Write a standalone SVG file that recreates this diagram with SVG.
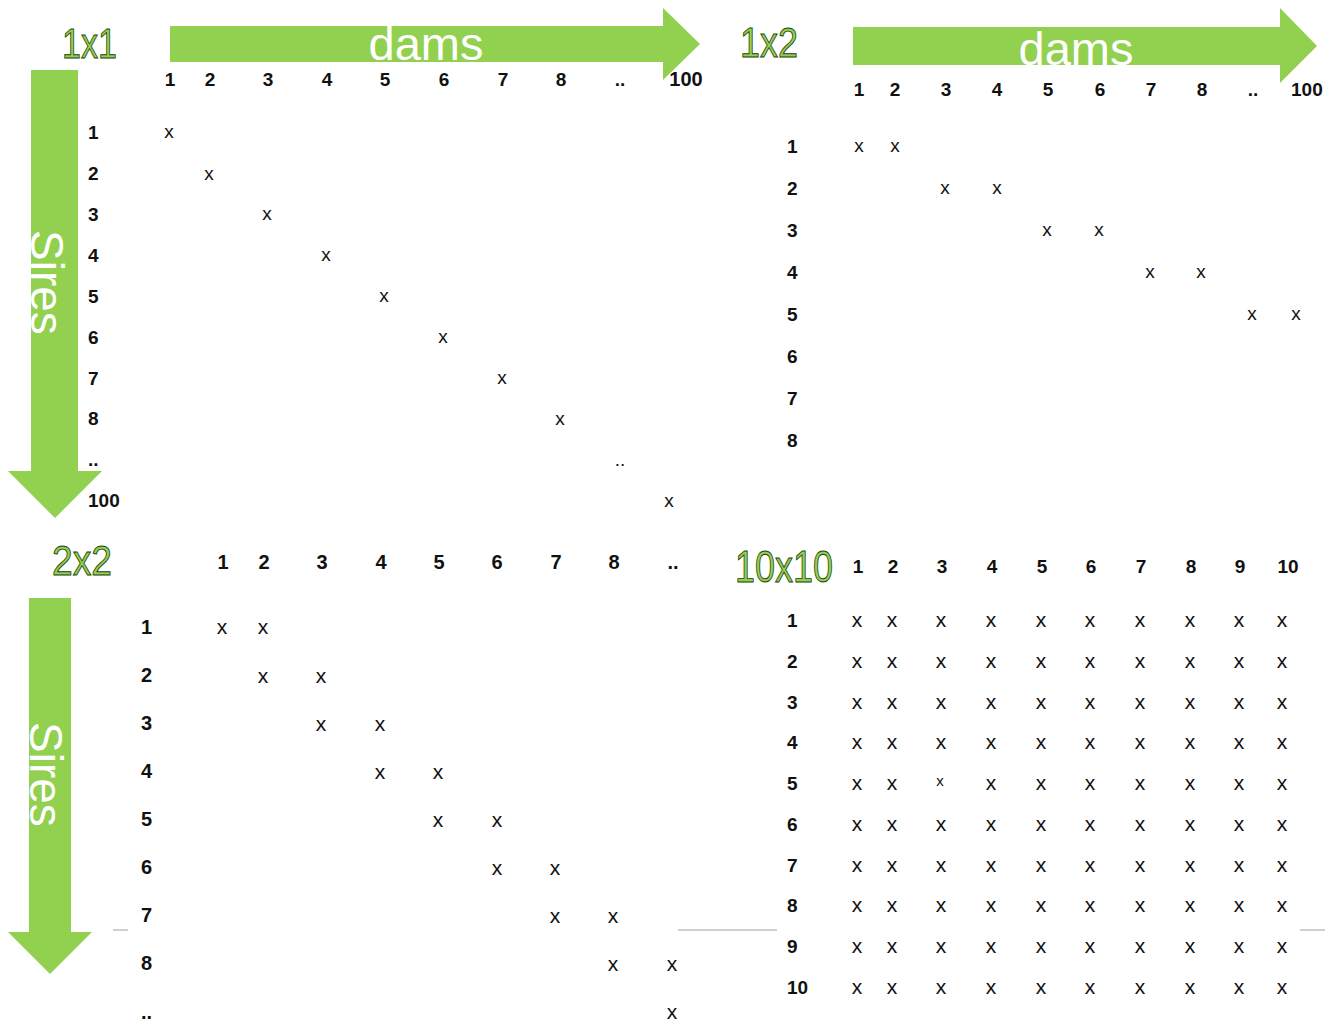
<svg xmlns="http://www.w3.org/2000/svg" width="1325" height="1023" viewBox="0 0 1325 1023">
<style>
.arr{fill:#92d050}
.ttl{font-family:"Liberation Sans",Arial,sans-serif;font-size:43px;fill:#92d050;stroke:#23400c;stroke-width:0.9}
.ax{font-family:"Liberation Sans",Arial,sans-serif;font-size:47px;fill:#ffffff}
.h{font-family:"Liberation Sans",Arial,sans-serif;font-size:19px;font-weight:bold;fill:#111;text-anchor:middle}
.r{font-family:"Liberation Sans",Arial,sans-serif;font-size:19px;font-weight:bold;fill:#111}
.r2{font-family:"Liberation Sans",Arial,sans-serif;font-size:20px;font-weight:bold;fill:#111}
.x{font-family:"Liberation Sans",Arial,sans-serif;font-size:19px;fill:#111;text-anchor:middle}
.xb{font-family:"Liberation Sans",Arial,sans-serif;font-size:21px;fill:#111;text-anchor:middle}
.sep{stroke:#d0d0d0;stroke-width:2}
</style>
<rect width="1325" height="1023" fill="#ffffff"/>
<g id="separators">
<line class="sep" x1="113" y1="930" x2="128" y2="930"/>
<line class="sep" x1="678" y1="930" x2="777" y2="930"/>
<line class="sep" x1="1300" y1="930" x2="1325" y2="930"/>
</g>
<g id="m1x1">
<polygon class="arr" points="170,26 663,26 663,8 700,44 663,80 663,62 170,62"/>
<polygon class="arr" points="31,70 78,70 78,471 102,471 55,518 8,471 31,471"/>
<text class="ax" x="426" y="60" text-anchor="middle">dams</text>
<text class="ax" transform="translate(31,230) rotate(90)" style="font-size:46px">Sires</text>
<text class="ttl" x="62" y="58" textLength="55" lengthAdjust="spacingAndGlyphs">1x1</text>
<g>
<text class="h" x="170" y="86">1</text><text class="h" x="210" y="86">2</text><text class="h" x="268" y="86">3</text><text class="h" x="327" y="86">4</text><text class="h" x="385" y="86">5</text><text class="h" x="444" y="86">6</text><text class="h" x="503" y="86">7</text><text class="h" x="561" y="86">8</text><text class="h" x="620" y="86">..</text><text class="h" x="686" y="86" style="font-size:20px">100</text>
</g>
<g>
<text class="r" x="88" y="139">1</text><text class="r" x="88" y="180">2</text><text class="r" x="88" y="221">3</text><text class="r" x="88" y="262">4</text><text class="r" x="88" y="303">5</text><text class="r" x="88" y="344">6</text><text class="r" x="88" y="385">7</text><text class="r" x="88" y="425">8</text><text class="r" x="88" y="466">..</text><text class="r" x="88" y="507">100</text>
</g>
<g>
<text class="x" x="169" y="138">x</text><text class="x" x="209" y="180">x</text><text class="x" x="267" y="220">x</text><text class="x" x="326" y="261">x</text><text class="x" x="384" y="302">x</text><text class="x" x="443" y="343">x</text><text class="x" x="502" y="384">x</text><text class="x" x="560" y="425">x</text><text class="x" x="620" y="466">..</text><text class="x" x="669" y="507">x</text>
</g>
</g>
<g id="m1x2">
<polygon class="arr" points="853,27 1280,27 1280,8 1317,46 1280,83 1280,65 853,65"/>
<text class="ax" x="1076" y="65" text-anchor="middle">dams</text>
<text class="ttl" x="740" y="57" textLength="58" lengthAdjust="spacingAndGlyphs">1x2</text>
<g>
<text class="h" x="859" y="96">1</text><text class="h" x="895" y="96">2</text><text class="h" x="946" y="96">3</text><text class="h" x="997" y="96">4</text><text class="h" x="1048" y="96">5</text><text class="h" x="1100" y="96">6</text><text class="h" x="1151" y="96">7</text><text class="h" x="1202" y="96">8</text><text class="h" x="1253" y="96">..</text><text class="r" x="1291" y="96">100</text>
</g>
<g>
<text class="r" x="787" y="153">1</text><text class="r" x="787" y="195">2</text><text class="r" x="787" y="237">3</text><text class="r" x="787" y="279">4</text><text class="r" x="787" y="321">5</text><text class="r" x="787" y="363">6</text><text class="r" x="787" y="405">7</text><text class="r" x="787" y="447">8</text>
</g>
<g>
<text class="x" x="859" y="152">x</text><text class="x" x="895" y="152">x</text>
<text class="x" x="945" y="194">x</text><text class="x" x="997" y="194">x</text>
<text class="x" x="1047" y="236">x</text><text class="x" x="1099" y="236">x</text>
<text class="x" x="1150" y="278">x</text><text class="x" x="1201" y="278">x</text>
<text class="x" x="1252" y="320">x</text><text class="x" x="1296" y="320">x</text>
</g>
</g>
<g id="m2x2">
<polygon class="arr" points="29,598 71,598 71,932 92,932 50,974 8,932 29,932"/>
<text class="ax" transform="translate(30,722) rotate(90)" style="font-size:46px">Sires</text>
<text class="ttl" x="52" y="575" textLength="60" lengthAdjust="spacingAndGlyphs">2x2</text>
<g>
<text class="h" x="223" y="569" style="font-size:20px">1</text><text class="h" x="264" y="569" style="font-size:20px">2</text><text class="h" x="322" y="569" style="font-size:20px">3</text><text class="h" x="381" y="569" style="font-size:20px">4</text><text class="h" x="439" y="569" style="font-size:20px">5</text><text class="h" x="497" y="569" style="font-size:20px">6</text><text class="h" x="556" y="569" style="font-size:20px">7</text><text class="h" x="614" y="569" style="font-size:20px">8</text><text class="h" x="673" y="569" style="font-size:20px">..</text>
</g>
<g>
<text class="r2" x="141" y="634">1</text><text class="r2" x="141" y="682">2</text><text class="r2" x="141" y="730">3</text><text class="r2" x="141" y="778">4</text><text class="r2" x="141" y="826">5</text><text class="r2" x="141" y="874">6</text><text class="r2" x="141" y="922">7</text><text class="r2" x="141" y="970">8</text><text class="r2" x="141" y="1019">..</text>
</g>
<g>
<text class="xb" x="222" y="634">x</text><text class="xb" x="263" y="634">x</text>
<text class="xb" x="263" y="683">x</text><text class="xb" x="321" y="683">x</text>
<text class="xb" x="321" y="731">x</text><text class="xb" x="380" y="731">x</text>
<text class="xb" x="380" y="779">x</text><text class="xb" x="438" y="779">x</text>
<text class="xb" x="438" y="827">x</text><text class="xb" x="497" y="827">x</text>
<text class="xb" x="497" y="875">x</text><text class="xb" x="555" y="875">x</text>
<text class="xb" x="555" y="923">x</text><text class="xb" x="613" y="923">x</text>
<text class="xb" x="613" y="971">x</text><text class="xb" x="672" y="971">x</text>
<text class="xb" x="672" y="1019">x</text>
</g>
</g>
<g id="m10x10">
<text class="ttl" x="735" y="582" textLength="98" lengthAdjust="spacingAndGlyphs" style="font-size:44px">10x10</text>
<g>
<text class="h" x="858" y="573">1</text><text class="h" x="893" y="573">2</text><text class="h" x="942" y="573">3</text><text class="h" x="992" y="573">4</text><text class="h" x="1042" y="573">5</text><text class="h" x="1091" y="573">6</text><text class="h" x="1141" y="573">7</text><text class="h" x="1191" y="573">8</text><text class="h" x="1240" y="573">9</text><text class="h" x="1288" y="573">10</text>
</g>
<g>
<text class="r" x="787" y="627">1</text><text class="r" x="787" y="668">2</text><text class="r" x="787" y="709">3</text><text class="r" x="787" y="749">4</text><text class="r" x="787" y="790">5</text><text class="r" x="787" y="831">6</text><text class="r" x="787" y="872">7</text><text class="r" x="787" y="912">8</text><text class="r" x="787" y="953">9</text><text class="r" x="787" y="994">10</text>
</g>
<g>
<text class="xb" x="857" y="627">x</text><text class="xb" x="892" y="627">x</text><text class="xb" x="941" y="627">x</text><text class="xb" x="991" y="627">x</text><text class="xb" x="1041" y="627">x</text><text class="xb" x="1090" y="627">x</text><text class="xb" x="1140" y="627">x</text><text class="xb" x="1190" y="627">x</text><text class="xb" x="1239" y="627">x</text><text class="xb" x="1282" y="627">x</text>
<text class="xb" x="857" y="668">x</text><text class="xb" x="892" y="668">x</text><text class="xb" x="941" y="668">x</text><text class="xb" x="991" y="668">x</text><text class="xb" x="1041" y="668">x</text><text class="xb" x="1090" y="668">x</text><text class="xb" x="1140" y="668">x</text><text class="xb" x="1190" y="668">x</text><text class="xb" x="1239" y="668">x</text><text class="xb" x="1282" y="668">x</text>
<text class="xb" x="857" y="709">x</text><text class="xb" x="892" y="709">x</text><text class="xb" x="941" y="709">x</text><text class="xb" x="991" y="709">x</text><text class="xb" x="1041" y="709">x</text><text class="xb" x="1090" y="709">x</text><text class="xb" x="1140" y="709">x</text><text class="xb" x="1190" y="709">x</text><text class="xb" x="1239" y="709">x</text><text class="xb" x="1282" y="709">x</text>
<text class="xb" x="857" y="749">x</text><text class="xb" x="892" y="749">x</text><text class="xb" x="941" y="749">x</text><text class="xb" x="991" y="749">x</text><text class="xb" x="1041" y="749">x</text><text class="xb" x="1090" y="749">x</text><text class="xb" x="1140" y="749">x</text><text class="xb" x="1190" y="749">x</text><text class="xb" x="1239" y="749">x</text><text class="xb" x="1282" y="749">x</text>
<text class="xb" x="857" y="790">x</text><text class="xb" x="892" y="790">x</text><text class="xb" x="940" y="786" style="font-size:15px">x</text><text class="xb" x="991" y="790">x</text><text class="xb" x="1041" y="790">x</text><text class="xb" x="1090" y="790">x</text><text class="xb" x="1140" y="790">x</text><text class="xb" x="1190" y="790">x</text><text class="xb" x="1239" y="790">x</text><text class="xb" x="1282" y="790">x</text>
<text class="xb" x="857" y="831">x</text><text class="xb" x="892" y="831">x</text><text class="xb" x="941" y="831">x</text><text class="xb" x="991" y="831">x</text><text class="xb" x="1041" y="831">x</text><text class="xb" x="1090" y="831">x</text><text class="xb" x="1140" y="831">x</text><text class="xb" x="1190" y="831">x</text><text class="xb" x="1239" y="831">x</text><text class="xb" x="1282" y="831">x</text>
<text class="xb" x="857" y="872">x</text><text class="xb" x="892" y="872">x</text><text class="xb" x="941" y="872">x</text><text class="xb" x="991" y="872">x</text><text class="xb" x="1041" y="872">x</text><text class="xb" x="1090" y="872">x</text><text class="xb" x="1140" y="872">x</text><text class="xb" x="1190" y="872">x</text><text class="xb" x="1239" y="872">x</text><text class="xb" x="1282" y="872">x</text>
<text class="xb" x="857" y="912">x</text><text class="xb" x="892" y="912">x</text><text class="xb" x="941" y="912">x</text><text class="xb" x="991" y="912">x</text><text class="xb" x="1041" y="912">x</text><text class="xb" x="1090" y="912">x</text><text class="xb" x="1140" y="912">x</text><text class="xb" x="1190" y="912">x</text><text class="xb" x="1239" y="912">x</text><text class="xb" x="1282" y="912">x</text>
<text class="xb" x="857" y="953">x</text><text class="xb" x="892" y="953">x</text><text class="xb" x="941" y="953">x</text><text class="xb" x="991" y="953">x</text><text class="xb" x="1041" y="953">x</text><text class="xb" x="1090" y="953">x</text><text class="xb" x="1140" y="953">x</text><text class="xb" x="1190" y="953">x</text><text class="xb" x="1239" y="953">x</text><text class="xb" x="1282" y="953">x</text>
<text class="xb" x="857" y="994">x</text><text class="xb" x="892" y="994">x</text><text class="xb" x="941" y="994">x</text><text class="xb" x="991" y="994">x</text><text class="xb" x="1041" y="994">x</text><text class="xb" x="1090" y="994">x</text><text class="xb" x="1140" y="994">x</text><text class="xb" x="1190" y="994">x</text><text class="xb" x="1239" y="994">x</text><text class="xb" x="1282" y="994">x</text>
</g>
</g>
</svg>
